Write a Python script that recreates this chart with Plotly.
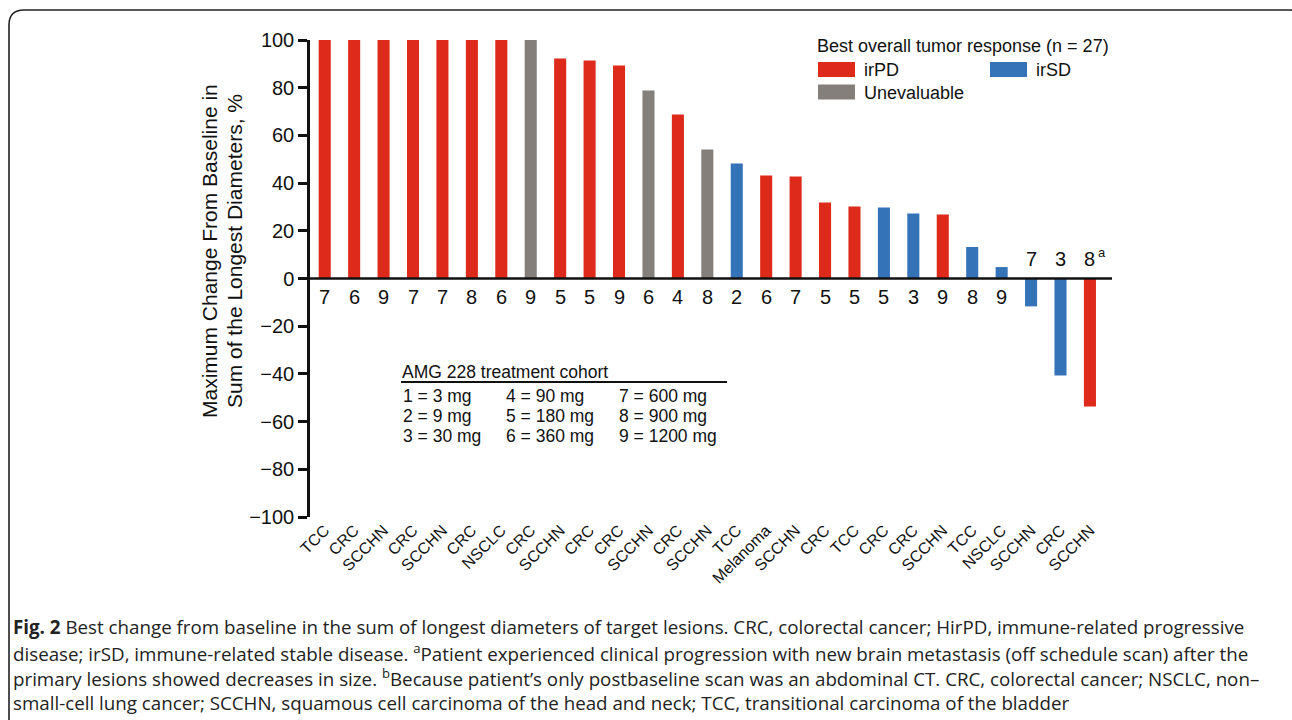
import plotly.graph_objects as go

# ---------------- data ----------------
cancer_types = ["TCC", "CRC", "SCCHN", "CRC", "SCCHN", "CRC", "NSCLC", "CRC", "SCCHN",
                "CRC", "CRC", "SCCHN", "CRC", "SCCHN", "TCC", "Melanoma", "SCCHN", "CRC",
                "TCC", "CRC", "CRC", "SCCHN", "TCC", "NSCLC", "SCCHN", "CRC", "SCCHN"]
cohorts = ["7", "6", "9", "7", "7", "8", "6", "9", "5", "5", "9", "6", "4", "8", "2",
           "6", "7", "5", "5", "5", "3", "9", "8", "9", "7", "3", "8"]
footnotes = [""] * 26 + ["a"]
max_change = [100, 100, 100, 100, 100, 100, 100, 100, 92.2, 91.4, 89.3, 78.8, 68.8, 54.1,
              48.2, 43.2, 42.8, 31.9, 30.2, 29.8, 27.3, 26.8, 13.2, 4.8, -11.7, -40.7, -53.7]
response = ["irPD", "irPD", "irPD", "irPD", "irPD", "irPD", "irPD", "Unevaluable", "irPD",
            "irPD", "irPD", "Unevaluable", "irPD", "Unevaluable", "irSD", "irPD", "irPD",
            "irPD", "irPD", "irSD", "irSD", "irPD", "irSD", "irSD", "irSD", "irSD", "irPD"]
legend_items = ["irPD", "irSD", "Unevaluable"]
legend_title = "Best overall tumor response (n = 27)"
y_title_lines = ["Maximum Change From Baseline in", "Sum of the Longest Diameters, %"]
cohort_title = "AMG 228 treatment cohort"
cohort_table = [["1 = 3 mg", "4 = 90 mg", "7 = 600 mg"],
                ["2 = 9 mg", "5 = 180 mg", "8 = 900 mg"],
                ["3 = 30 mg", "6 = 360 mg", "9 = 1200 mg"]]
y_ticks = [100, 80, 60, 40, 20, 0, -20, -40, -60, -80, -100]
caption_lines = [
    "<b>Fig. 2</b> Best change from baseline in the sum of longest diameters of target lesions. CRC, colorectal cancer; HirPD, immune-related progressive",
    "disease; irSD, immune-related stable disease. <sup>a</sup>Patient experienced clinical progression with new brain metastasis (off schedule scan) after the",
    "primary lesions showed decreases in size. <sup>b</sup>Because patient\u2019s only postbaseline scan was an abdominal CT. CRC, colorectal cancer; NSCLC, non\u2013",
    "small-cell lung cancer; SCCHN, squamous cell carcinoma of the head and neck; TCC, transitional carcinoma of the bladder",
]

colors = {"irPD": "#DD2A1B", "irSD": "#3473B8", "Unevaluable": "#847F7B"}

# ---------------- figure ----------------
W, H = 1292, 720
ML, MR, MT, MB = 310, 180, 40, 203
PW, PH = W - ML - MR, H - MT - MB

def px(x):
    return (x - ML) / PW

def py(y):
    return 1 - (y - MT) / PH

xs = list(range(len(max_change)))
fig = go.Figure()
fig.add_trace(go.Bar(
    x=xs, y=max_change,
    marker=dict(color=[colors[r] for r in response], line=dict(width=0)),
    width=0.41, showlegend=False, hoverinfo="y",
))

FONT = "Liberation Sans, Arial, Helvetica, sans-serif"
INK = "#111111"
annotations = []
# cohort numbers at the zero line
for i, (c, v, fn) in enumerate(zip(cohorts, max_change, footnotes)):
    if v >= 0:
        annotations.append(dict(x=i, y=0, text=c, showarrow=False, yanchor="top", yshift=-5,
                                font=dict(size=20, color=INK, family=FONT)))
    else:
        annotations.append(dict(x=i, y=0, text=c, showarrow=False, yanchor="bottom", yshift=7,
                                font=dict(size=20, color=INK, family=FONT)))
    if fn:
        annotations.append(dict(x=i, y=0, text=fn, showarrow=False, yanchor="bottom", xanchor="left",
                                yshift=17, xshift=6, font=dict(size=13, color=INK, family=FONT)))

# y-axis title (two lines)
for txt, cx in zip(y_title_lines, [209, 234]):
    annotations.append(dict(xref="paper", yref="paper", x=px(cx), y=py(251), text=txt,
                            textangle=-90, showarrow=False, xanchor="center", yanchor="middle",
                            font=dict(size=21, color=INK, family=FONT)))

# legend (manual)
annotations.append(dict(xref="paper", yref="paper", x=px(815), y=py(46), text=legend_title,
                        showarrow=False, xanchor="left", yanchor="middle",
                        font=dict(size=18, color=INK, family=FONT)))
legend_pos = {"irPD": (818, 69.5), "irSD": (990, 69.5), "Unevaluable": (818, 92)}
shapes = []
for item in legend_items:
    lx, ly = legend_pos[item]
    shapes.append(dict(type="rect", xref="paper", yref="paper", x0=px(lx), x1=px(lx + 37),
                       y0=py(ly - 7.5), y1=py(ly + 7.5), fillcolor=colors[item], line=dict(width=0)))
    annotations.append(dict(xref="paper", yref="paper", x=px(lx + 44), y=py(ly + 1), text=item,
                            showarrow=False, xanchor="left", yanchor="middle",
                            font=dict(size=18, color=INK, family=FONT)))

# cohort table
annotations.append(dict(xref="paper", yref="paper", x=px(400), y=py(372), text=cohort_title,
                        showarrow=False, xanchor="left", yanchor="middle",
                        font=dict(size=17.5, color=INK, family=FONT)))
shapes.append(dict(type="line", xref="paper", yref="paper", x0=px(401), x1=px(727),
                   y0=py(382), y1=py(382), line=dict(color=INK, width=2)))
col_x = [401, 504, 617]
row_y = [396, 416, 436]
for r, row in enumerate(cohort_table):
    for c, cell in enumerate(row):
        annotations.append(dict(xref="paper", yref="paper", x=px(col_x[c]), y=py(row_y[r]), text=cell,
                                showarrow=False, xanchor="left", yanchor="middle",
                                font=dict(size=17.5, color=INK, family=FONT)))

# caption
cap_y = [626, 652, 677, 702]
for t, yy in zip(caption_lines, cap_y):
    annotations.append(dict(xref="paper", yref="paper", x=px(11), y=py(yy), text=t,
                            showarrow=False, xanchor="left", yanchor="middle",
                            font=dict(size=18.75, color="#222222", family="Open Sans, sans-serif")))

# zero line
shapes.append(dict(type="line", xref="paper", yref="y", x0=0, x1=1, y0=0, y1=0,
                   line=dict(color=INK, width=2.5), layer="above"))
# outer rounded frame
r = 15
x0, y0, x1, y1 = 9, 10, 1305, 740
path = (f"M {px(x0)},{py(y1)} L {px(x0)},{py(y0 + r)} "
        f"Q {px(x0)},{py(y0)} {px(x0 + r)},{py(y0)} L {px(x1 - r)},{py(y0)} "
        f"Q {px(x1)},{py(y0)} {px(x1)},{py(y0 + r)} L {px(x1)},{py(y1)}")
shapes.append(dict(type="path", xref="paper", yref="paper", path=path,
                   line=dict(color="#222222", width=1.6)))

fig.update_layout(
    width=W, height=H,
    margin=dict(l=ML, r=MR, t=MT, b=MB, autoexpand=False),
    plot_bgcolor="white", paper_bgcolor="white",
    xaxis=dict(range=[-0.5, 26.75], tickmode="array", tickvals=xs, ticktext=cancer_types,
               tickangle=-45, showline=False, showgrid=False, zeroline=False, ticks="",
               tickfont=dict(size=16, color=INK, family=FONT), fixedrange=True),
    yaxis=dict(range=[-100, 100], tickvals=y_ticks, showline=True, linecolor=INK, linewidth=2.5,
               ticks="outside", ticklen=9, tickwidth=2.5, tickcolor=INK, showgrid=False,
               zeroline=False, tickfont=dict(size=20, color=INK, family=FONT), fixedrange=True),
    annotations=annotations,
    shapes=shapes,
)

fig.write_html("out.html", config={"displayModeBar": False},
               post_script="document.body.style.margin='0';document.body.style.overflow='hidden';")
